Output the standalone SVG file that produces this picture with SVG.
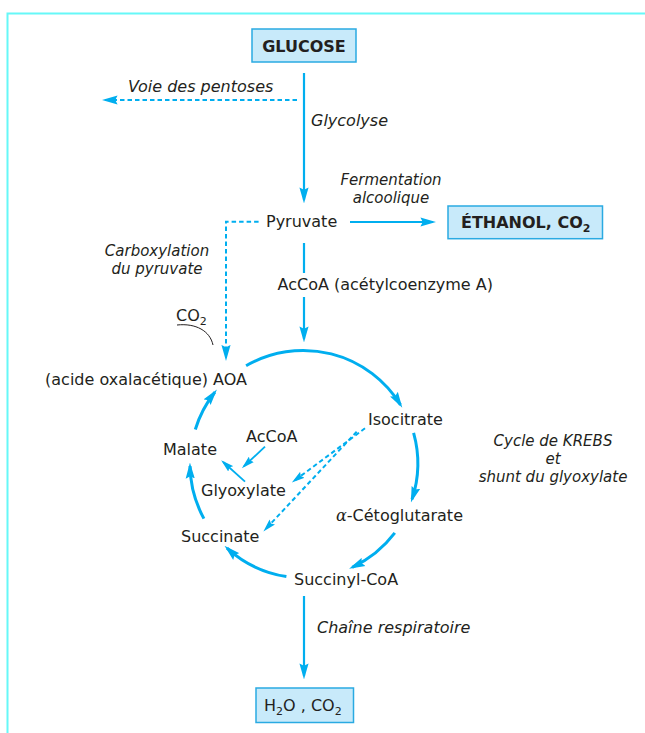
<svg xmlns="http://www.w3.org/2000/svg" width="645" height="733" viewBox="0 0 645 733">
<style>
text{font-family:"DejaVu Sans","Liberation Sans",sans-serif;font-size:16px;fill:#231f20}
.it{font-style:italic}
.m{font-size:15px}
.b{font-weight:bold}
.box{fill:#c8eafa;stroke:#2aaae2;stroke-width:1.5}
.ln{fill:none;stroke:#00aeef;stroke-width:2.2}
.cy{fill:none;stroke:#00aeef;stroke-width:3}
.th{fill:none;stroke:#00aeef;stroke-width:1.8}
.ds{fill:none;stroke:#00aeef;stroke-width:2;stroke-dasharray:4.5 3}
.frame{fill:none;stroke:#66f8f8;stroke-width:2}
</style>
<defs>
<marker id="ah" markerUnits="userSpaceOnUse" markerWidth="16" markerHeight="10" viewBox="0 0 14 8" refX="11" refY="4" orient="auto">
<path d="M0,0 L14,4 L0,8 L2,4 z" fill="#00aeef"/>
</marker>
<marker id="ahs" markerUnits="userSpaceOnUse" markerWidth="13" markerHeight="8" viewBox="0 0 14 8" refX="11" refY="4" orient="auto">
<path d="M0,0 L14,4 L0,8 L2,4 z" fill="#00aeef"/>
</marker>
</defs>
<rect width="645" height="733" fill="#fff"/>
<path class="frame" d="M7.5,733 V13.5 H645"/>

<g id="connectors">
<path class="ln" d="M304,73 V200" marker-end="url(#ah)"/>
<path class="ds" d="M297,100 H105" marker-end="url(#ah)"/>
<path class="ln" d="M350,222 H433" marker-end="url(#ah)"/>
<path class="ds" d="M258.6,221.7 H226 V357.5" marker-end="url(#ah)"/>
<path class="ln" d="M304,243 V273"/>
<path class="ln" d="M304,297 V339" marker-end="url(#ah)"/>
<path class="ln" d="M304,596 V676" marker-end="url(#ah)"/>
<path d="M177,325 C196,323 210,331 213,345" fill="none" stroke="#231f20" stroke-width="1"/>
<path class="cy" d="M246.1,365.8 A114,114 0 0 1 400.5,404.9" marker-end="url(#ah)"/>
<path class="cy" d="M413.6,432.8 A114,114 0 0 1 412.0,499.3" marker-end="url(#ah)"/>
<path class="cy" d="M394.8,532.9 A114,114 0 0 1 352.2,567.3" marker-end="url(#ah)"/>
<path class="cy" d="M286.4,576.6 A114,114 0 0 1 227.0,548.1" marker-end="url(#ah)"/>
<path class="cy" d="M203.9,518.6 A114,114 0 0 1 190.0,466.0" marker-end="url(#ah)"/>
<path class="cy" d="M195.3,429.5 A114,114 0 0 1 214.8,392.3" marker-end="url(#ah)"/>
<path class="th" d="M265,446.7 L243.9,466.3" marker-end="url(#ahs)"/>
<path class="th" d="M245,481.7 L223.2,462" marker-end="url(#ahs)"/>
<path class="ds" d="M365,428.3 L294.1,480.9" marker-end="url(#ahs)"/>
<path class="ds" d="M356.7,431.7 L265.3,529.5" marker-end="url(#ahs)"/>
</g>

<g id="glucose">
<rect class="box" x="252" y="29" width="104" height="33"/>
<text class="b" x="304" y="52" text-anchor="middle">GLUCOSE</text>
</g>
<g id="pentoses"><text class="it" x="128" y="92">Voie des pentoses</text></g>
<g id="glycolyse"><text class="it" x="311" y="126">Glycolyse</text></g>
<g id="fermentation"><text class="it m" x="391" y="185" text-anchor="middle">Fermentation</text><text class="it m" x="391" y="203" text-anchor="middle">alcoolique</text></g>
<g id="pyruvate"><text x="266" y="227">Pyruvate</text></g>
<g id="ethanol">
<rect class="box" x="448" y="206" width="154.5" height="32.7"/>
<text class="b" x="461" y="228">ÉTHANOL, CO<tspan font-size="11" dy="4">2</tspan></text>
</g>
<g id="carboxylation"><text class="it m" x="157" y="256" text-anchor="middle">Carboxylation</text><text class="it m" x="157" y="274" text-anchor="middle">du pyruvate</text></g>
<g id="accoa1"><text x="277.5" y="290">AcCoA (acétylcoenzyme A)</text></g>
<g id="co2"><text x="176" y="321">CO<tspan font-size="11" dy="4">2</tspan></text></g>
<g id="aoa"><text x="247" y="385" text-anchor="end">(acide oxalacétique) AOA</text></g>
<g id="isocitrate"><text x="368" y="425">Isocitrate</text></g>
<g id="krebs"><text class="it m" x="553" y="446" text-anchor="middle">Cycle de KREBS</text><text class="it m" x="553" y="464" text-anchor="middle">et</text><text class="it m" x="553" y="482" text-anchor="middle">shunt du glyoxylate</text></g>
<g id="malate"><text x="163" y="455">Malate</text></g>
<g id="accoa2"><text x="246" y="442">AcCoA</text></g>
<g id="glyoxylate"><text x="201" y="496">Glyoxylate</text></g>
<g id="cetoglutarate"><text x="336" y="521"><tspan font-family="DejaVu Serif,serif" font-style="italic">α</tspan>-Cétoglutarate</text></g>
<g id="succinate"><text x="181" y="542">Succinate</text></g>
<g id="succinylcoa"><text x="294" y="585">Succinyl-CoA</text></g>
<g id="chaine"><text class="it" x="317" y="633">Chaîne respiratoire</text></g>
<g id="h2o">
<rect class="box" x="256" y="688" width="97.5" height="34.5"/>
<text x="264" y="711">H<tspan font-size="11" dy="4">2</tspan><tspan dy="-4">O , CO</tspan><tspan font-size="11" dy="4">2</tspan></text>
</g>
</svg>
